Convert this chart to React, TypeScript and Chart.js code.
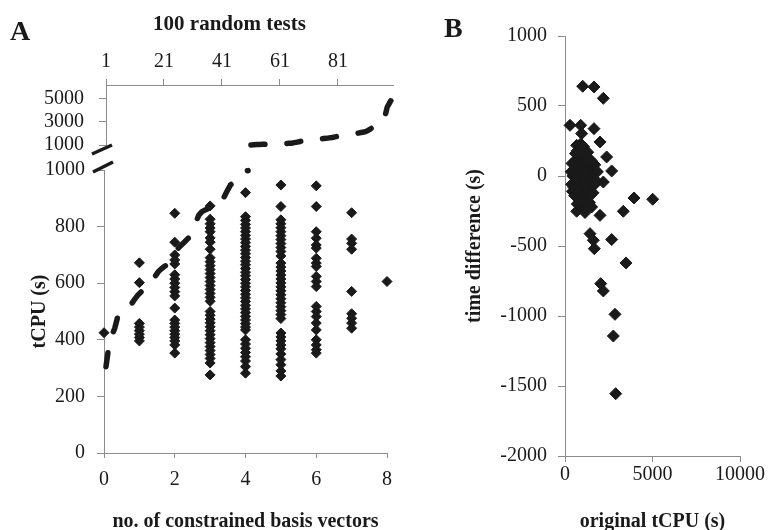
import React, { useEffect, useRef } from 'react';
import { Chart, registerables } from 'chart.js';

Chart.register(...registerables);

const FONT = '"Liberation Serif", "Times New Roman", serif';
const INK = '#1a1a1a';
const AXIS = '#8c8c8c';

// ---------- Panel A: tCPU of the 100 random tests (sorted), dashed line ----------
const testIndex = [
  1, 2, 3, 4, 5, 6, 7, 8, 9, 10, 11, 12, 13, 14, 15, 16, 17, 18, 19, 20,
  21, 22, 23, 24, 25, 26, 27, 28, 29, 30, 31, 32, 33, 34, 35, 36, 37, 38, 39, 40,
  41, 42, 43, 44, 45, 46, 47, 48, 49, 50, 51, 52, 53, 54, 55, 56, 57, 58, 59, 60,
  61, 62, 63, 64, 65, 66, 67, 68, 69, 70, 71, 72, 73, 74, 75, 76, 77, 78, 79, 80,
  81, 82, 83, 84, 85, 86, 87, 88, 89, 90, 91, 92, 93, 94, 95, 96, 97, 98, 99, 100,
];
const sortedTcpu = [
  305, 380, 415, 440, 480, 500, 508, 515, 522, 530, 545, 558, 568, 578, 590, 602, 612, 625, 640, 650,
  658, 665, 680, 695, 710, 725, 735, 745, 755, 765, 790, 815, 840, 852, 858, 862, 866, 870, 876, 882,
  890, 910, 930, 948, 955, 965, 980, 990, 995, 998, 1010, 1020, 1035, 1045, 1055, 1065, 1075, 1085, 1095, 1105,
  1115, 1125, 1135, 1145, 1150, 1200, 1250, 1300, 1350, 1400, 1430, 1450, 1480, 1510, 1530, 1550, 1570, 1610, 1650, 1700,
  1740, 1780, 1820, 1860, 1900, 1940, 1980, 2020, 2070, 2110, 2200, 2350, 2500, 2700, 2850, 2970, 3200, 4250, 4700, 5100,
];
const brokenAxisSplit = 50; // first 50 tests drawn on the lower (0-1000) axis

// ---------- Panel A: tCPU vs no. of constrained basis vectors ----------
const tcpuAt0 = [425];
const tcpuAt1 = [672, 602, 458, 445, 432, 420, 408, 396];
const tcpuAt2 = [847, 745, 700, 682, 668, 630, 615, 600, 585, 570, 555, 512, 470, 458, 445, 432, 420, 408, 396, 382, 353];
const tcpuAt3 = [873, 826, 810, 795, 782, 760, 745, 720, 690, 676, 662, 648, 634, 620, 606, 592, 578, 564, 550, 536,
  500, 487, 473, 460, 446, 432, 418, 404, 390, 376, 362, 348, 334, 318, 276];
const tcpuAt4 = [920, 835, 822, 808, 795, 782, 769, 756, 743, 730, 717, 704, 691, 678, 665, 652, 639, 626, 613, 600,
  587, 574, 561, 548, 535, 522, 509, 496, 483, 470, 457, 445, 435, 400, 385, 370, 355, 340, 325, 305, 282];
const tcpuAt5 = [947, 871, 824, 810, 796, 782, 768, 754, 740, 726, 712, 696, 671, 657, 643, 629, 615, 601, 587, 573,
  559, 545, 531, 517, 503, 489, 475, 424, 410, 396, 382, 368, 350, 330, 312, 290, 272];
const tcpuAt6 = [944, 871, 782, 759, 735, 724, 688, 671, 659, 624, 606, 588, 518, 500, 482, 459, 435, 400, 382, 365, 353];
const tcpuAt7 = [849, 756, 741, 720, 571, 492, 476, 459, 441];
const tcpuAt8 = [606];
const basisColumns = [tcpuAt0, tcpuAt1, tcpuAt2, tcpuAt3, tcpuAt4, tcpuAt5, tcpuAt6, tcpuAt7, tcpuAt8];

// ---------- Panel B: time difference vs original tCPU ----------
const originalTcpu = [
  1010, 1657, 2190, 286, 895, 1657, 952, 2000, 667, 1048, 2380, 2667, 2190, 3943, 5010, 3333, 2000, 667, 1143, 1524,
  952, 1429, 1619, 2667, 1676, 3486, 2038, 2190, 2857, 2762, 2895,
  700, 900, 1100, 1300, 800, 1000, 1200, 1500, 1700, 400, 600, 850, 1050, 1250, 1450, 1650, 350, 550, 750,
  950, 1150, 1350, 1550, 1850, 450, 650, 850, 1000, 1200, 1400, 1600, 380, 600, 800, 1100, 1300, 1500, 1750, 420,
  700, 900, 1150, 1350, 1600, 550, 800, 1000, 1250, 1450, 700, 900, 1100, 1300, 950, 1050, 750, 1150, 650, 1250,
  900, 1200, 1050, 850, 1350, 600, 500, 1400, 1700,
];
const timeDiff = [
  641, 636, 555, 362, 362, 338, 303, 243, 219, 207, 136, 36, -43, -157, -166, -252, -281, -252, -261, -221,
  -186, -412, -459, -454, -519, -621, -769, -821, -988, -1143, -1555,
  180, 230, 190, 170, 120, 150, 130, 110, 80, 90, 110, 80, 100, 70, 60, 40, 30, 50, 40,
  30, 50, 20, 10, 30, 0, 10, -5, 5, -10, 0, -20, -60, -50, -40, -60, -50, -70, -30, -110,
  -100, -90, -110, -100, -120, -140, -160, -150, -170, -140, -200, -215, -205, -225, 70, -30, -120, 110, -20, 30,
  170, -80, 210, -180, 120, 160, -80, -190, -60,
];

// ---------- shared axis styling ----------
const tickFont = { family: FONT, size: 20 };
const asText = (v: any) => String(v);

function axisBase(tickPadding: number, tickLength: number, stepSize?: number) {
  return {
    grid: { display: true, drawOnChartArea: false, drawTicks: true, tickLength, color: AXIS, lineWidth: 1 },
    border: { display: true, color: AXIS, width: 1 },
    ticks: { font: tickFont, color: INK, padding: tickPadding, maxRotation: 0, autoSkip: false, callback: asText, stepSize },
  };
}

const axisTitle = (text: string, lineHeight: number, padding: any) => ({
  display: true,
  text,
  color: INK,
  font: { family: FONT, size: 20, weight: 'bold', lineHeight },
  padding,
});

const breakMarkUpper = {
  id: 'breakMarkUpper',
  afterDraw(chart: any) {
    const { ctx, chartArea } = chart;
    ctx.save();
    ctx.strokeStyle = INK;
    ctx.lineWidth = 3.5;
    ctx.beginPath();
    ctx.moveTo(chartArea.left - 14, chartArea.bottom + 9);
    ctx.lineTo(chartArea.left + 6, chartArea.bottom);
    ctx.stroke();
    ctx.restore();
  },
};

// title of the top (test number) axis, set a little left of the axis centre as in the original figure
const topAxisTitle = {
  id: 'topAxisTitle',
  afterDraw(chart: any) {
    const { ctx, chartArea } = chart;
    ctx.save();
    ctx.fillStyle = INK;
    ctx.font = `bold 21px ${FONT}`;
    ctx.textAlign = 'center';
    ctx.textBaseline = 'middle';
    ctx.fillText('100 random tests', chartArea.left + 123.5, 25);
    ctx.restore();
  },
};

const breakMarkLower = {
  id: 'breakMarkLower',
  afterDraw(chart: any) {
    const { ctx, chartArea } = chart;
    ctx.save();
    ctx.strokeStyle = INK;
    ctx.lineWidth = 3.5;
    ctx.beginPath();
    ctx.moveTo(chartArea.left - 11, chartArea.top + 2);
    ctx.lineTo(chartArea.left + 9, chartArea.top - 8);
    ctx.stroke();
    ctx.restore();
  },
};

const topTickValues = [1, 21, 41, 61, 81];
const upperTickValues = [1000, 3000, 5000];

const dashedLineStyle = {
  borderColor: INK,
  borderWidth: 5.5,
  borderDash: [14, 22],
  borderCapStyle: 'round' as const,
  pointRadius: 0,
  tension: 0,
  fill: false,
  clip: false as const,
  showLine: true,
};

export default function App() {
  const upperRef = useRef<HTMLCanvasElement>(null);
  const lowerRef = useRef<HTMLCanvasElement>(null);
  const bRef = useRef<HTMLCanvasElement>(null);

  useEffect(() => {
    const upperLine = testIndex.slice(brokenAxisSplit).map((t, i) => ({ x: t, y: sortedTcpu[brokenAxisSplit + i] }));
    const lowerLine = testIndex.slice(0, brokenAxisSplit).map((t, i) => ({ x: t, y: sortedTcpu[i] }));
    const scatterA: { x: number; y: number }[] = [];
    basisColumns.forEach((col, n) => col.forEach((v) => scatterA.push({ x: n, y: v })));
    const scatterB = originalTcpu.map((x, i) => ({ x, y: timeDiff[i] }));

    const common = {
      animation: false as const,
      responsive: false,
      events: [] as any[],
    };

    // ----- Panel A, upper part (1000-6000, top axis = test number) -----
    const upper = new Chart(upperRef.current!, {
      type: 'line',
      data: { datasets: [{ ...dashedLineStyle, data: upperLine, xAxisID: 'xt', yAxisID: 'yu' }] },
      options: {
        ...common,
        layout: { padding: { left: 0, right: 37, top: 0, bottom: 385 } },
        plugins: { legend: { display: false }, tooltip: { enabled: false } },
        scales: {
          xt: {
            type: 'linear',
            position: 'top',
            min: 1,
            max: 100,
            ...axisBase(5, 6),
            afterBuildTicks: (s: any) => { s.ticks = topTickValues.map((v) => ({ value: v })); },
            afterFit: (s: any) => { s.height = 85; },
          },
          yu: {
            type: 'linear',
            position: 'left',
            min: 1000,
            max: 6150,
            ...axisBase(15, 7),
            afterBuildTicks: (s: any) => { s.ticks = upperTickValues.map((v) => ({ value: v })); },
            afterFit: (s: any) => { s.width = 106; },
          },
        },
      } as any,
      plugins: [breakMarkUpper, topAxisTitle],
    });

    // ----- Panel A, lower part (0-1000) -----
    const lower = new Chart(lowerRef.current!, {
      type: 'scatter',
      data: {
        datasets: [
          {
            type: 'scatter',
            data: scatterA,
            xAxisID: 'xb',
            yAxisID: 'yl',
            pointStyle: 'rectRot',
            pointRadius: 5,
            backgroundColor: INK,
            borderColor: INK,
            borderWidth: 1,
            clip: false,
          } as any,
          { type: 'line', ...dashedLineStyle, data: lowerLine, xAxisID: 'xh', yAxisID: 'yl' } as any,
        ],
      },
      options: {
        ...common,
        layout: { padding: { left: 0, right: 43, top: 170, bottom: 0 } },
        plugins: { legend: { display: false }, tooltip: { enabled: false } },
        scales: {
          xb: {
            type: 'linear',
            position: 'bottom',
            min: 0,
            max: 8,
            ...axisBase(10, 5, 2),
            title: axisTitle('no. of constrained basis vectors', 0.85, { top: 0, bottom: 0 }),
            afterFit: (s: any) => { s.height = 77; },
          },
          xh: { type: 'linear', display: false, min: 0.31, max: 97.93 },
          yl: {
            type: 'linear',
            position: 'left',
            min: 0,
            max: 1000,
            ...axisBase(12, 7, 200),
            title: axisTitle('tCPU (s)', 1, { top: 30, bottom: 0 }),
            afterFit: (s: any) => { s.width = 104; },
          },
        },
      } as any,
      plugins: [breakMarkLower],
    });

    // ----- Panel B -----
    const b = new Chart(bRef.current!, {
      type: 'scatter',
      data: {
        datasets: [
          {
            data: scatterB,
            pointStyle: 'rectRot',
            pointRadius: 6,
            backgroundColor: INK,
            borderColor: INK,
            borderWidth: 1,
            clip: false,
          } as any,
        ],
      },
      options: {
        ...common,
        layout: { padding: { left: 0, right: 29, top: 36, bottom: 0 } },
        plugins: { legend: { display: false }, tooltip: { enabled: false } },
        scales: {
          x: {
            type: 'linear',
            position: 'bottom',
            min: 0,
            max: 10000,
            ...axisBase(1, 6, 5000),
            title: axisTitle('original tCPU (s)', 0.8, { top: 0, bottom: 0 }),
            afterFit: (s: any) => { s.height = 74; },
          },
          y: {
            type: 'linear',
            position: 'left',
            min: -2000,
            max: 1000,
            ...axisBase(11, 7, 500),
            title: axisTitle('time difference (s)', 1, { top: 35, bottom: 0 }),
            afterFit: (s: any) => { s.width = 135; },
          },
        },
      } as any,
    });

    return () => {
      upper.destroy();
      lower.destroy();
      b.destroy();
    };
  }, []);

  const panelLabel = {
    position: 'absolute' as const,
    font: `bold 28px ${FONT}`,
    lineHeight: '28px',
    color: INK,
  };
  const canvasStyle = (left: number, w: number) => ({
    position: 'absolute' as const, left, top: 0, width: w, height: 530,
  });

  return (
    <div style={{ position: 'fixed', left: 0, top: 0, width: 769, height: 530, background: '#fff', overflow: 'hidden' }}>
      <canvas ref={upperRef} width={430} height={530} style={canvasStyle(0, 430)} />
      <canvas ref={lowerRef} width={430} height={530} style={canvasStyle(0, 430)} />
      <canvas ref={bRef} width={339} height={530} style={canvasStyle(430, 339)} />
      <div style={{ ...panelLabel, left: 10, top: 17 }}>A</div>
      <div style={{ ...panelLabel, left: 444, top: 14 }}>B</div>
    </div>
  );
}
